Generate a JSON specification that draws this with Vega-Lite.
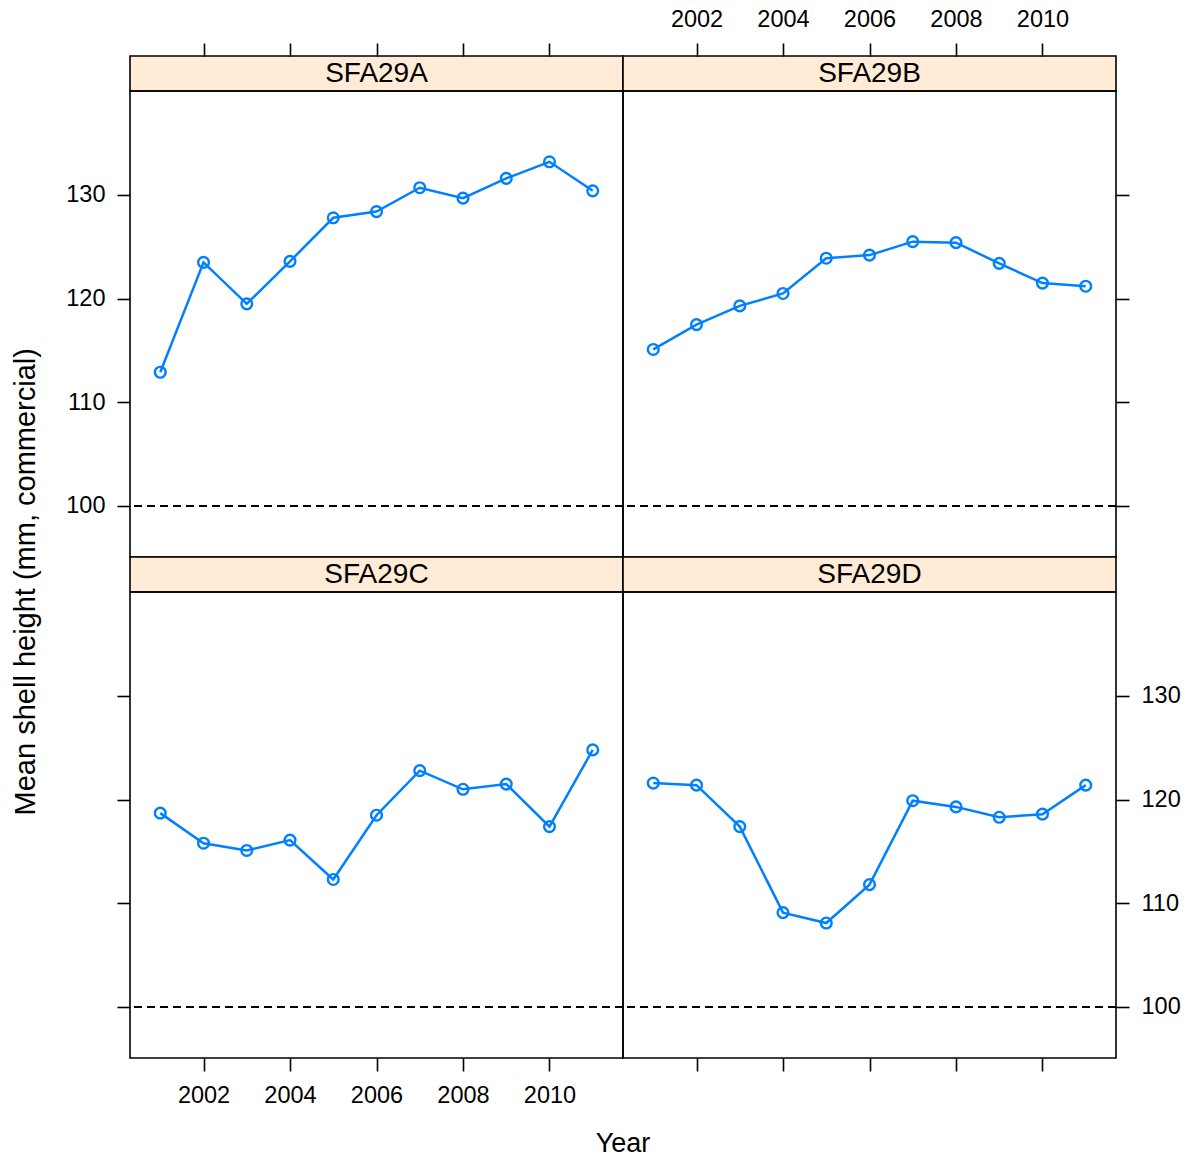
{
  "$schema": "https://vega.github.io/schema/vega-lite/v6.json",
  "background": "white",
  "padding": {"left": 11, "top": 6, "right": 5, "bottom": 5},
  "config": {
    "font": "Liberation Sans",
    "view": {"stroke": "black", "strokeWidth": 1.6},
    "axis": {
      "domain": false, "grid": false, "ticks": true,
      "tickColor": "black", "tickWidth": 1.6, "tickSize": 13,
      "labelFont": "Liberation Sans", "labelFontSize": 23.5, "labelColor": "black",
      "labelPadding": 12, "title": null
    },
    "title": {"font": "Liberation Sans", "fontWeight": "normal", "color": "black", "anchor": "middle"}
  },
  "datasets": {
    "shell": [
      {"area": "SFA29A", "year": 2001, "height": 112.9},
      {"area": "SFA29A", "year": 2002, "height": 123.5},
      {"area": "SFA29A", "year": 2003, "height": 119.5},
      {"area": "SFA29A", "year": 2004, "height": 123.6},
      {"area": "SFA29A", "year": 2005, "height": 127.8},
      {"area": "SFA29A", "year": 2006, "height": 128.4},
      {"area": "SFA29A", "year": 2007, "height": 130.7},
      {"area": "SFA29A", "year": 2008, "height": 129.7},
      {"area": "SFA29A", "year": 2009, "height": 131.6},
      {"area": "SFA29A", "year": 2010, "height": 133.2},
      {"area": "SFA29A", "year": 2011, "height": 130.4},
      {"area": "SFA29B", "year": 2001, "height": 115.1},
      {"area": "SFA29B", "year": 2002, "height": 117.5},
      {"area": "SFA29B", "year": 2003, "height": 119.3},
      {"area": "SFA29B", "year": 2004, "height": 120.5},
      {"area": "SFA29B", "year": 2005, "height": 123.9},
      {"area": "SFA29B", "year": 2006, "height": 124.2},
      {"area": "SFA29B", "year": 2007, "height": 125.5},
      {"area": "SFA29B", "year": 2008, "height": 125.4},
      {"area": "SFA29B", "year": 2009, "height": 123.4},
      {"area": "SFA29B", "year": 2010, "height": 121.5},
      {"area": "SFA29B", "year": 2011, "height": 121.2},
      {"area": "SFA29C", "year": 2001, "height": 118.7},
      {"area": "SFA29C", "year": 2002, "height": 115.8},
      {"area": "SFA29C", "year": 2003, "height": 115.1},
      {"area": "SFA29C", "year": 2004, "height": 116.1},
      {"area": "SFA29C", "year": 2005, "height": 112.3},
      {"area": "SFA29C", "year": 2006, "height": 118.5},
      {"area": "SFA29C", "year": 2007, "height": 122.8},
      {"area": "SFA29C", "year": 2008, "height": 121.0},
      {"area": "SFA29C", "year": 2009, "height": 121.5},
      {"area": "SFA29C", "year": 2010, "height": 117.4},
      {"area": "SFA29C", "year": 2011, "height": 124.8},
      {"area": "SFA29D", "year": 2001, "height": 121.6},
      {"area": "SFA29D", "year": 2002, "height": 121.4},
      {"area": "SFA29D", "year": 2003, "height": 117.4},
      {"area": "SFA29D", "year": 2004, "height": 109.1},
      {"area": "SFA29D", "year": 2005, "height": 108.1},
      {"area": "SFA29D", "year": 2006, "height": 111.8},
      {"area": "SFA29D", "year": 2007, "height": 119.9},
      {"area": "SFA29D", "year": 2008, "height": 119.3},
      {"area": "SFA29D", "year": 2009, "height": 118.3},
      {"area": "SFA29D", "year": 2010, "height": 118.6},
      {"area": "SFA29D", "year": 2011, "height": 121.4}
    ]
  },
  "title": {"text": "Mean shell height (mm, commercial)", "orient": "left", "fontSize": 29, "offset": 24, "anchor": "middle"},
  "vconcat": [
    {
      "title": {"text": "Year", "orient": "bottom", "fontSize": 27, "offset": 24, "anchor": "middle"},
      "columns": 2,
      "spacing": 0,
      "bounds": "flush",
      "concat": [
        {
          "width": 493, "height": 35,
          "data": {"values": [{"area": "SFA29A"}]},
          "view": {"fill": "#ffebd6", "stroke": "black", "strokeWidth": 1.6},
          "mark": {"type": "text", "fontSize": 28, "color": "black", "baseline": "middle"},
          "encoding": {"text": {"field": "area"}}
        },
        {
          "width": 493, "height": 35,
          "data": {"values": [{"area": "SFA29B"}]},
          "view": {"fill": "#ffebd6", "stroke": "black", "strokeWidth": 1.6},
          "mark": {"type": "text", "fontSize": 28, "color": "black", "baseline": "middle"},
          "encoding": {"text": {"field": "area"}}
        },
        {
          "width": 493, "height": 466,
          "data": {"name": "shell"},
          "transform": [{"filter": "datum.area === 'SFA29A'"}],
          "encoding": {
            "x": {"field": "year", "type": "quantitative", "scale": {"domain": [2000.3, 2011.7], "nice": false, "zero": false},
                  "axis": {"orient": "top", "offset": 35, "values": [2002, 2004, 2006, 2008, 2010], "labels": false}},
            "y": {"field": "height", "type": "quantitative", "scale": {"domain": [95.08, 140.03], "nice": false, "zero": false},
                  "axis": {"orient": "left", "values": [100, 110, 120, 130], "labels": true}}
          },
          "layer": [
            {"mark": {"type": "rule", "color": "black", "strokeWidth": 2, "strokeDash": [8, 5]}, "encoding": {"x": null, "y": {"datum": 100, "type": "quantitative"}}},
            {"mark": {"type": "line", "color": "#0080ff", "strokeWidth": 2.5}},
            {"mark": {"type": "point", "filled": false, "color": "#0080ff", "strokeWidth": 2.4, "size": 115, "opacity": 1}}
          ]
        },
        {
          "width": 493, "height": 466,
          "data": {"name": "shell"},
          "transform": [{"filter": "datum.area === 'SFA29B'"}],
          "encoding": {
            "x": {"field": "year", "type": "quantitative", "scale": {"domain": [2000.3, 2011.7], "nice": false, "zero": false},
                  "axis": {"orient": "top", "offset": 35, "values": [2002, 2004, 2006, 2008, 2010], "labels": true, "format": "d"}},
            "y": {"field": "height", "type": "quantitative", "scale": {"domain": [95.08, 140.03], "nice": false, "zero": false},
                  "axis": {"orient": "right", "values": [100, 110, 120, 130], "labels": false}}
          },
          "layer": [
            {"mark": {"type": "rule", "color": "black", "strokeWidth": 2, "strokeDash": [8, 5]}, "encoding": {"x": null, "y": {"datum": 100, "type": "quantitative"}}},
            {"mark": {"type": "line", "color": "#0080ff", "strokeWidth": 2.5}},
            {"mark": {"type": "point", "filled": false, "color": "#0080ff", "strokeWidth": 2.4, "size": 115, "opacity": 1}}
          ]
        },
        {
          "width": 493, "height": 35,
          "data": {"values": [{"area": "SFA29C"}]},
          "view": {"fill": "#ffebd6", "stroke": "black", "strokeWidth": 1.6},
          "mark": {"type": "text", "fontSize": 28, "color": "black", "baseline": "middle"},
          "encoding": {"text": {"field": "area"}}
        },
        {
          "width": 493, "height": 35,
          "data": {"values": [{"area": "SFA29D"}]},
          "view": {"fill": "#ffebd6", "stroke": "black", "strokeWidth": 1.6},
          "mark": {"type": "text", "fontSize": 28, "color": "black", "baseline": "middle"},
          "encoding": {"text": {"field": "area"}}
        },
        {
          "width": 493, "height": 466,
          "data": {"name": "shell"},
          "transform": [{"filter": "datum.area === 'SFA29C'"}],
          "encoding": {
            "x": {"field": "year", "type": "quantitative", "scale": {"domain": [2000.3, 2011.7], "nice": false, "zero": false},
                  "axis": {"orient": "bottom", "values": [2002, 2004, 2006, 2008, 2010], "labels": true, "format": "d"}},
            "y": {"field": "height", "type": "quantitative", "scale": {"domain": [95.08, 140.03], "nice": false, "zero": false},
                  "axis": {"orient": "left", "values": [100, 110, 120, 130], "labels": false}}
          },
          "layer": [
            {"mark": {"type": "rule", "color": "black", "strokeWidth": 2, "strokeDash": [8, 5]}, "encoding": {"x": null, "y": {"datum": 100, "type": "quantitative"}}},
            {"mark": {"type": "line", "color": "#0080ff", "strokeWidth": 2.5}},
            {"mark": {"type": "point", "filled": false, "color": "#0080ff", "strokeWidth": 2.4, "size": 115, "opacity": 1}}
          ]
        },
        {
          "width": 493, "height": 466,
          "data": {"name": "shell"},
          "transform": [{"filter": "datum.area === 'SFA29D'"}],
          "encoding": {
            "x": {"field": "year", "type": "quantitative", "scale": {"domain": [2000.3, 2011.7], "nice": false, "zero": false},
                  "axis": {"orient": "bottom", "values": [2002, 2004, 2006, 2008, 2010], "labels": false}},
            "y": {"field": "height", "type": "quantitative", "scale": {"domain": [95.08, 140.03], "nice": false, "zero": false},
                  "axis": {"orient": "right", "values": [100, 110, 120, 130], "labels": true}}
          },
          "layer": [
            {"mark": {"type": "rule", "color": "black", "strokeWidth": 2, "strokeDash": [8, 5]}, "encoding": {"x": null, "y": {"datum": 100, "type": "quantitative"}}},
            {"mark": {"type": "line", "color": "#0080ff", "strokeWidth": 2.5}},
            {"mark": {"type": "point", "filled": false, "color": "#0080ff", "strokeWidth": 2.4, "size": 115, "opacity": 1}}
          ]
        }
      ]
    }
  ]
}
